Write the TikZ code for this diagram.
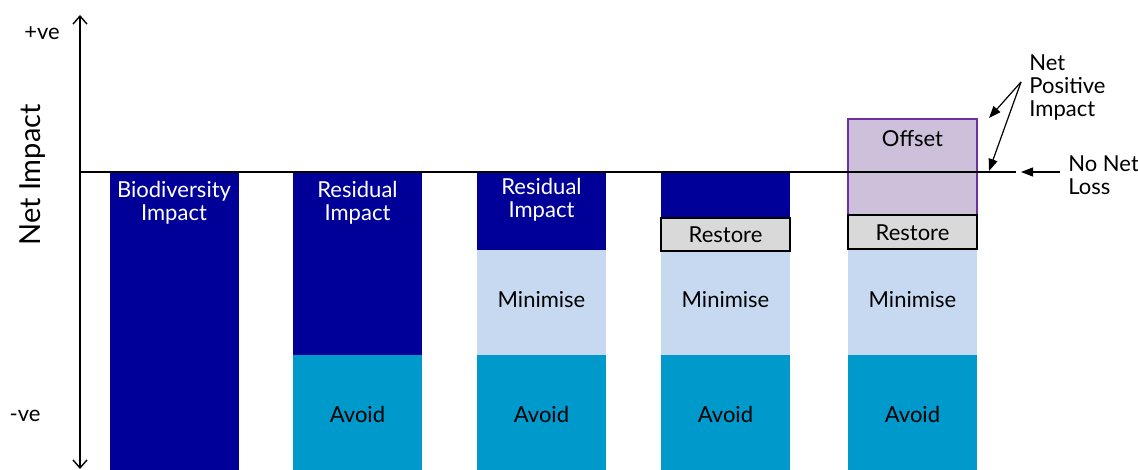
\documentclass[tikz,border=0pt]{standalone}
\usepackage{fontspec}
\setmainfont{Lato}
\usepackage{tikz}
\usetikzlibrary{arrows.meta, positioning}
\definecolor{impnavy}{HTML}{000099}
\definecolor{avoidblue}{HTML}{0099CC}
\definecolor{minblue}{HTML}{C6D9F1}
\definecolor{offlilac}{HTML}{CCC0DA}
\definecolor{offpurple}{HTML}{7030A0}
\definecolor{restgray}{HTML}{D9D9D9}
\tikzset{
  seg/.style={rectangle, inner sep=0pt, minimum width=64.5pt, draw=none},
  seg/imp/.style={seg, fill=impnavy},
  seg/avoid/.style={seg, fill=avoidblue},
  seg/min/.style={seg, fill=minblue},
  seg/rest/.style={seg, fill=restgray, draw=black, line width=0.8pt},
  seg/off/.style={seg, fill=offlilac, draw=offpurple, line width=0.7pt},
  txt/.style={font=\fontsize{11}{11.5}\selectfont, align=center, inner sep=0pt},
  wtxt/.style={txt, text=white},
  side/.style={font=\fontsize{11}{11.5}\selectfont, align=left, inner sep=0pt},
  axis/.style={line width=0.7pt, {Straight Barb[length=4pt,width=7pt]}-{Straight Barb[length=4pt,width=7pt]}},
  ar/.style={-{Triangle[length=6pt,width=4.5pt]}, line width=0.6pt},
}
\begin{document}
\begin{tikzpicture}[x=0.5pt, y=-0.5pt]
\useasboundingbox (0,0) rectangle (1138,470);

% bar 1
\node[seg/imp, minimum height=149pt] (B1) at (174,321) {};
\node[wtxt] (B1t) at (174,203) {Biodiversity\\Impact};

% bar 2
\node[seg/imp, minimum height=91.5pt] (R2) at (357.5,263.5) {};
\node[seg/avoid, minimum height=57.5pt] (A2) at (357.5,412.5) {};
\node[wtxt] (R2t) at (357.5,203) {Residual\\Impact};
\node[txt] (A2t) at (357.5,414) {Avoid};

% bar 3
\node[seg/imp, minimum height=39pt] (R3) at (541.5,211) {};
\node[seg/min, minimum height=52.5pt] (M3) at (541.5,302.5) {};
\node[seg/avoid, minimum height=57.5pt] (A3) at (541.5,412.5) {};
\node[wtxt] (R3t) at (541.5,200) {Residual\\Impact};
\node[txt] (M3t) at (541.5,300) {Minimise};
\node[txt] (A3t) at (541.5,414) {Avoid};

% bar 4
\node[seg/imp, minimum height=23pt] (R4) at (725.5,195) {};
\node[seg/min, minimum height=52pt] (M4) at (725.5,303) {};
\node[seg/avoid, minimum height=57.5pt] (A4) at (725.5,412.5) {};
\node[seg/rest, minimum height=16.5pt] (S4) at (725.5,234.5) {};
\node[txt] (S4t) at (725.5,235) {Restore};
\node[txt] (M4t) at (725.5,300) {Minimise};
\node[txt] (A4t) at (725.5,414) {Avoid};

% bar 5
\node[seg/off, minimum height=48pt] (O5) at (912.5,167) {};
\node[seg/min, minimum height=53pt] (M5) at (912.5,302) {};
\node[seg/avoid, minimum height=57.5pt] (A5) at (912.5,412.5) {};
\node[seg/rest, minimum height=17pt] (S5) at (912.5,232) {};
\node[txt] (O5t) at (912.5,139) {Offset};
\node[txt] (S5t) at (912.5,233) {Restore};
\node[txt] (M5t) at (912.5,300) {Minimise};
\node[txt] (A5t) at (912.5,414) {Avoid};

% axes
\coordinate (ytop) at (80,15);
\coordinate (ybot) at (80,469);
\coordinate (zl) at (80,172);
\coordinate (zr) at (1016,172);
\draw[axis] (ybot) -- (ytop);
\draw[line width=0.7pt] (zl) -- (zr);

\node[font=\fontsize{14.5}{16}\selectfont, rotate=90, inner sep=0pt] (NI) at (33,175) {Net Impact};
\node[side] (POS) at (42,33) {+ve};
\node[side] (NEG) at (25,416) {-ve};

% right labels
\node[side, anchor=north west] (NPI) at (1029,54) {Net\\Positive\\Impact};
\node[side, anchor=west] (NNL) at (1068,175) {No Net\\Loss};
\coordinate (npo) at (1021,82);
\coordinate (tipA) at (989,118);
\coordinate (tipB) at (989,171);
\coordinate (nno) at (1060,172);
\coordinate (tipC) at (1021,172);
\draw[ar] (npo) -- (tipA);
\draw[ar] (npo) -- (tipB);
\draw[ar] (nno) -- (tipC);
\end{tikzpicture}
\end{document}
